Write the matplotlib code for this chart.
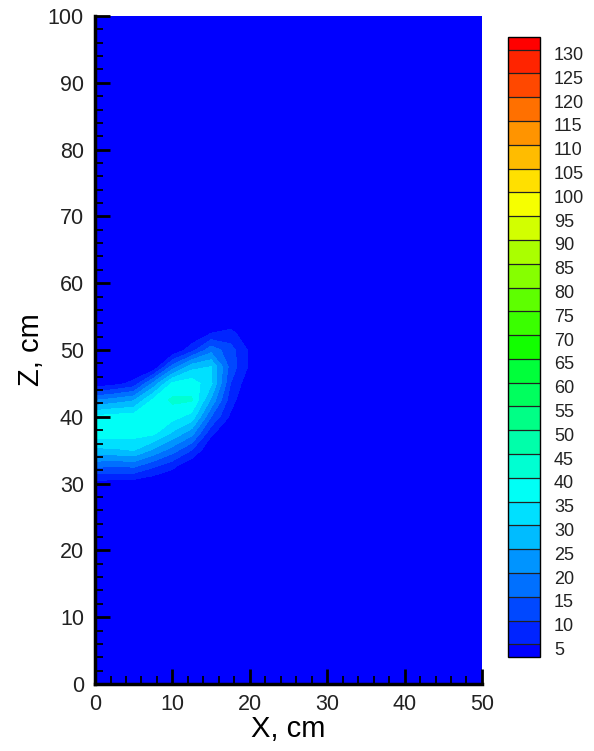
import numpy as np
import matplotlib
matplotlib.use("Agg")
from matplotlib import pyplot as plt
from matplotlib.colors import LinearSegmentedColormap, ListedColormap
from matplotlib.ticker import MultipleLocator
import matplotlib.transforms as mtransforms

plt.rcParams['font.family'] = ['Liberation Sans', 'DejaVu Sans']

# grid (cm); outside this window the field is ~0
x_cm = [0, 2.5, 5, 7.5, 10, 12.5, 15, 17.5, 20, 22.5]
z_cm = [27.5, 30, 32.5, 35, 37.5, 40, 42.5, 45, 47.5, 50, 52.5, 55]

# rows follow z_cm, columns follow x_cm
conc = [
    [0, 0, 0, 0, 0, 0, 0, 0, 0, 0],
    [2.4, 2.2, 1.5, 0, 0, 0, 0, 0, 0, 0],
    [15.5, 14.5, 15.2, 10.5, 5.9, 0, 0, 0, 0, 0],
    [28.7, 29, 30.2, 24.1, 17.4, 9.8, 0, 0, 0, 0],
    [37.8, 37.5, 37, 36, 29, 21.7, 6, 0, 0, 0],
    [36, 37.5, 37.5, 38.5, 37, 33, 15, 4, 0, 0],
    [19.7, 22, 24.4, 36, 41, 40.5, 24, 7, 0, 0],
    [1, 3, 6.4, 21, 36, 38, 31, 10, 1, 0],
    [0, 0, 0, 0, 17, 28, 30, 13, 4, 0],
    [0, 0, 0, 0, 0, 8, 18, 12, 4, 0],
    [0, 0, 0, 0, 0, 0, 5, 6.5, 1.5, 0],
    [0, 0, 0, 0, 0, 0, 0, 0, 0, 0],
]

levels = list(range(5, 135, 5))

# pad out to the full domain
x_grid = x_cm + [50]
z_grid = [0] + z_cm + [100]
field = np.pad(np.array(conc, dtype=float), ((1, 1), (0, 1)))

rainbow = LinearSegmentedColormap.from_list(
    "small_rainbow", ["#0000ff", "#00ffff", "#00ff00", "#ffff00", "#ff0000"])
n_box = len(levels) + 1
box_colors = [rainbow(i / n_box) for i in range(n_box + 1)]
cmap = ListedColormap(box_colors[1:-1])
cmap.set_under(box_colors[0])
cmap.set_over(box_colors[-1])

fig = plt.figure(figsize=(5.94, 7.51), dpi=100)
ax = fig.add_axes([0.16, 0.0892, 0.6514, 0.8895])

cs = ax.contourf(x_grid, z_grid, field, levels=levels, cmap=cmap, extend='both')

ax.set_xlim(0, 50)
ax.set_ylim(0, 100)
ax.spines['top'].set_visible(False)
ax.spines['right'].set_visible(False)
ax.spines['left'].set_linewidth(2.5)
ax.spines['bottom'].set_linewidth(2.5)

ax.xaxis.set_major_locator(MultipleLocator(10))
ax.xaxis.set_minor_locator(MultipleLocator(2))
ax.yaxis.set_major_locator(MultipleLocator(10))
ax.yaxis.set_minor_locator(MultipleLocator(2))
ax.tick_params(which='both', direction='in', top=False, right=False,
               labelsize=15.5, labelcolor='#222222')
ax.tick_params(which='major', length=11, width=2)
ax.tick_params(which='minor', length=5.5, width=1.3)
ax.tick_params(axis='x', pad=7)
ax.tick_params(axis='y', pad=8)

ax.set_xlabel('X, cm', fontsize=21, labelpad=0)
ax.set_ylabel('Z, cm', fontsize=21, labelpad=2)

cax = fig.add_axes([0.8552, 0.1252, 0.0539, 0.8255])
cb = fig.colorbar(cs, cax=cax, ticks=levels, extendrect=True,
                  extendfrac=0.021, drawedges=True)
cb.outline.set_linewidth(1)
cb.outline.set_edgecolor('black')
cb.dividers.set_color('#222222')
cb.dividers.set_linewidth(0.9)
cax.tick_params(length=0, labelsize=13, pad=10, labelcolor='#222222')

shift = mtransforms.ScaledTranslation(0, -0.04, fig.dpi_scale_trans)
for lbl in cax.get_yticklabels():
    lbl.set_transform(lbl.get_transform() + shift)

fig.savefig('out.png', dpi=100)
